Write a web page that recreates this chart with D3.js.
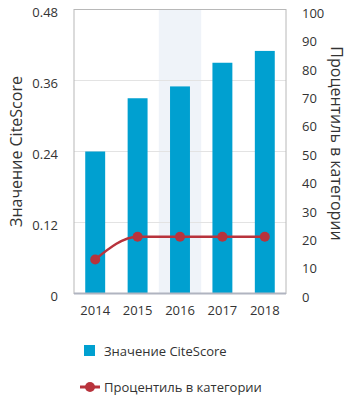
<!DOCTYPE html>
<html>
<head>
<meta charset="utf-8">
<script src="https://cdn.jsdelivr.net/npm/d3@7"></script>
<style>
  body { margin: 0; background: #fff; }
  svg text { font-family: "Open Sans", sans-serif; fill: #333; }
</style>
</head>
<body>
<div id="chart"></div>
<script>
// CiteScore bars + category percentile line
const years = ['2014','2015','2016','2017','2018'];
const citeScore = [0.24, 0.33, 0.35, 0.39, 0.41];
const percentile = [12, 20, 20, 20, 20];
const leftTicks = [0, 0.12, 0.24, 0.36, 0.48];
const rightTicks = [0,10,20,30,40,50,60,70,80,90,100];
const highlightYear = '2016';

(function(){
  const W = 353, H = 395;
  const m = {t:9.5, r:67, b:101.5, l:74};
  const w = W - m.l - m.r, h = H - m.t - m.b;

  const svg = d3.select('#chart').append('svg').attr('width', W).attr('height', H);
  const g = svg.append('g').attr('transform', `translate(${m.l},${m.t})`);

  const x = d3.scaleBand().domain(years).range([0, w]).paddingInner(0.53).paddingOuter(0.265);
  const xBand = d3.scaleBand().domain(years).range([0, w]);
  const yL = d3.scaleLinear().domain([0, 0.48]).range([h, 0]);
  const yR = d3.scaleLinear().domain([0, 100]).range([h, 0]);

  // highlighted year background
  g.append('rect')
    .attr('x', xBand(highlightYear)).attr('y', 0)
    .attr('width', xBand.bandwidth()).attr('height', h)
    .attr('fill', '#eff3f9');

  // gridlines
  g.selectAll('.grid').data(leftTicks.slice(1, -1)).enter().append('line')
    .attr('x1', 0).attr('x2', w)
    .attr('y1', d => yL(d)).attr('y2', d => yL(d))
    .attr('stroke', '#e3e3e3').attr('stroke-width', 1);

  // bars
  g.selectAll('.bar').data(citeScore).enter().append('rect')
    .attr('x', (d,i) => x(years[i]))
    .attr('y', d => yL(d))
    .attr('width', x.bandwidth())
    .attr('height', d => h - yL(d))
    .attr('fill', '#00a0d0');

  // frame
  g.append('rect').attr('width', w).attr('height', h)
    .attr('fill', 'none').attr('stroke', '#b8b8b8').attr('stroke-width', 1);
  g.append('line').attr('x1', 0).attr('x2', w).attr('y1', h).attr('y2', h)
    .attr('stroke', '#b0b4c0').attr('stroke-width', 2);

  // percentile line
  const line = d3.line()
    .x((d,i) => x(years[i]) + x.bandwidth()/2)
    .y(d => yR(d))
    .curve(d3.curveMonotoneX);
  g.append('path').datum(percentile)
    .attr('d', line).attr('fill', 'none')
    .attr('stroke', '#b8333c').attr('stroke-width', 2.5);
  g.selectAll('.dot').data(percentile).enter().append('circle')
    .attr('cx', (d,i) => x(years[i]) + x.bandwidth()/2)
    .attr('cy', d => yR(d))
    .attr('r', 5).attr('fill', '#b8333c');

  // left axis
  const axL = g.append('g').call(d3.axisLeft(yL).tickValues(leftTicks).tickSize(0).tickPadding(16)
    .tickFormat(d => d === 0 ? '0' : d3.format('.2f')(d)));
  axL.select('.domain').remove();
  axL.selectAll('text').attr('font-size', 13).attr('dy', '0.5em').style('fill', '#333');

  // right axis
  const axR = g.append('g').attr('transform', `translate(${w},0)`)
    .call(d3.axisRight(yR).tickValues(rightTicks).tickSize(0).tickPadding(16));
  axR.select('.domain').remove();
  axR.selectAll('text').attr('font-size', 13).attr('dy', '0.6em').style('fill', '#333');

  // bottom axis
  const axB = g.append('g').attr('transform', `translate(0,${h})`)
    .call(d3.axisBottom(xBand).tickSize(0).tickPadding(12));
  axB.select('.domain').remove();
  axB.selectAll('text').attr('font-size', 13).style('fill', '#333');

  // axis titles
  svg.append('text')
    .attr('transform', `translate(22,${m.t + h/2}) rotate(-90)`)
    .attr('text-anchor', 'middle').attr('font-size', 16)
    .text('Значение CiteScore');
  svg.append('text')
    .attr('transform', `translate(331,${m.t + h/2 - 8}) rotate(90)`)
    .attr('text-anchor', 'middle').attr('font-size', 16)
    .text('Процентиль в категории');

  // legend
  const lg = svg.append('g');
  lg.append('rect').attr('x', 84).attr('y', 345).attr('width', 11).attr('height', 11).attr('fill', '#00a0d0');
  lg.append('text').attr('x', 104).attr('y', 356).attr('font-size', 13).text('Значение CiteScore');
  lg.append('line').attr('x1', 80).attr('x2', 100).attr('y1', 387).attr('y2', 387)
    .attr('stroke', '#b8333c').attr('stroke-width', 3);
  lg.append('circle').attr('cx', 90).attr('cy', 387).attr('r', 5).attr('fill', '#b8333c');
  lg.append('text').attr('x', 104).attr('y', 392).attr('font-size', 13).text('Процентиль в категории');
})();
</script>
</body>
</html>
